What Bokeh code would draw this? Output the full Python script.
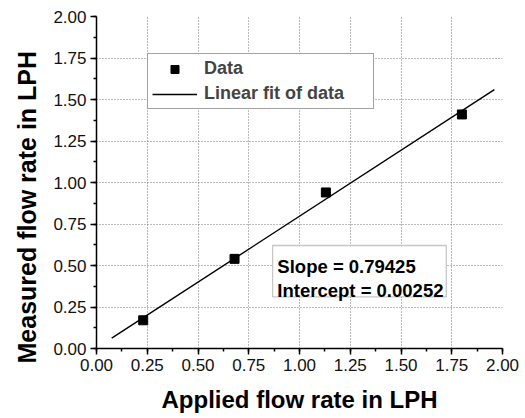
import math
from bokeh.plotting import figure
from bokeh.models import (SingleIntervalTicker, FixedTicker, PrintfTickFormatter, Legend,
                          LegendItem, Label, BoxAnnotation, Range1d, Title)
from bokeh.embed import file_html
from bokeh.resources import INLINE

# ---- data ----
applied = [0.23, 0.68, 1.13, 1.80]
measured = [0.17, 0.54, 0.94, 1.41]
slope = 0.79425
intercept = 0.00252
fit_x = [0.075, 1.96]
fit_y = [slope * v + intercept for v in fit_x]
x_label = "Applied flow rate in LPH"
y_label = "Measured flow rate in LPH"
legend_labels = ["Data", "Linear fit of data"]
grid_ticks = [0.25, 0.50, 0.75, 1.00, 1.25, 1.50, 1.75]

FONT = "Liberation Sans"

p = figure(width=525, height=418, output_backend="svg", toolbar_location=None,
           x_range=Range1d(0, 2), y_range=Range1d(0, 2),
           min_border_left=93, min_border_right=23, min_border_top=16, min_border_bottom=70)
p.outline_line_color = None
p.background_fill_color = "white"

for ax in (p.xaxis[0], p.yaxis[0]):
    ax.ticker = SingleIntervalTicker(interval=0.25, num_minor_ticks=2)
    ax.formatter = PrintfTickFormatter(format="%.2f")
    ax.major_label_text_font = FONT
    ax.major_label_text_font_size = "17px"
    ax.major_label_text_color = "#111111"
    ax.axis_line_width = 1.5
    ax.axis_line_color = "black"
    ax.major_tick_line_width = 1.5
    ax.minor_tick_line_width = 1.5
    ax.major_tick_line_color = "black"
    ax.minor_tick_line_color = "black"
    ax.major_tick_out = 6
    ax.major_tick_in = 0
    ax.minor_tick_out = 3
    ax.minor_tick_in = 0
    ax.major_label_standoff = 4

p.xaxis.axis_label = x_label
p.xaxis.axis_label_text_font = FONT
p.xaxis.axis_label_text_font_size = "24px"
p.xaxis.axis_label_text_font_style = "bold"
p.xaxis.axis_label_text_color = "black"
p.xaxis.axis_label_standoff = 12

for g in (p.xgrid[0], p.ygrid[0]):
    g.ticker = FixedTicker(ticks=grid_ticks)
    g.grid_line_color = "#777777"
    g.grid_line_dash = "1 2"
    g.grid_line_width = 1

# y axis label as a left-side title, starting a little below the frame bottom
p.add_layout(Title(text=y_label, align="left", offset=-15, standoff=20,
                   vertical_align="bottom",
                   text_font=FONT, text_font_size="25px", text_font_style="bold",
                   text_color="black"), "left")

ln = p.line(fit_x, fit_y, line_color="black", line_width=1.4)
sq = p.scatter(applied, measured, marker="square", size=9, fill_color="black", line_color="black")

legend = Legend(items=[LegendItem(label=legend_labels[0], renderers=[sq]),
                       LegendItem(label=legend_labels[1], renderers=[ln])],
                location=(51, 239), margin=0, padding=4, spacing=4,
                glyph_width=45, glyph_height=20, label_height=20, label_standoff=7,
                label_width=165,
                label_text_font=FONT, label_text_font_size="18px", label_text_font_style="bold",
                border_line_color="#444444", border_line_width=1.3,
                background_fill_color="white", background_fill_alpha=1.0)
p.add_layout(legend)

# fit parameters box
p.add_layout(BoxAnnotation(left=0.8675, right=1.723, bottom=0.3114, top=0.6205,
                           fill_color="white", fill_alpha=1.0,
                           line_color="#444444", line_width=1.3))
p.add_layout(Label(x=0.891, y=0.4958, text="Slope = %.5f" % slope,
                   text_font=FONT, text_font_size="18.5px", text_font_style="bold",
                   text_baseline="alphabetic", text_color="black"))
p.add_layout(Label(x=0.891, y=0.3494, text="Intercept = %.5f" % intercept,
                   text_font=FONT, text_font_size="18.5px", text_font_style="bold",
                   text_baseline="alphabetic", text_color="black"))

open("out.html", "w").write(file_html(p, INLINE))
